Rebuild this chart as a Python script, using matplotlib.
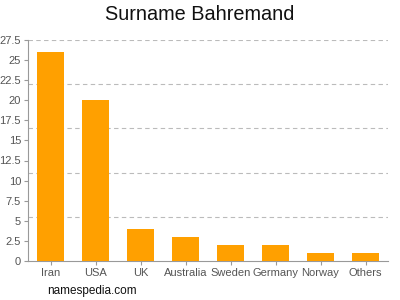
import matplotlib
matplotlib.use("Agg")
import matplotlib.pyplot as plt
import numpy as np

countries = ["Iran", "USA", "UK", "Australia", "Sweden", "Germany", "Norway", "Others"]
counts = [26, 20, 4, 3, 2, 2, 1, 1]
y_ticks = [0, 2.5, 5, 7.5, 10, 12.5, 15, 17.5, 20, 22.5, 25, 27.5]
grid_levels = [5.5, 11, 16.5, 22, 27.5]

plt.rcParams["font.family"] = ["Liberation Sans", "DejaVu Sans"]

fig = plt.figure(figsize=(4, 3), dpi=100)
ax = fig.add_axes([0.07, 0.13, 0.9, 0.737])

x = np.arange(len(countries))
ax.bar(x, counts, width=0.62, color="#ffa000", zorder=3)

for level in grid_levels:
    ax.axhline(level, color="#bbbbbb", linewidth=0.8, linestyle=(0, (4, 3)), zorder=1)

ax.set_xlim(-0.5, len(countries) - 0.5)
ax.set_ylim(0, 27.5)
ax.set_xticks(x)
ax.set_xticklabels(countries)
ax.set_yticks(y_ticks)
ax.set_yticklabels([f"{t:g}" for t in y_ticks])

for side in ("top", "right"):
    ax.spines[side].set_visible(False)
for side in ("left", "bottom"):
    ax.spines[side].set_color("#999999")
    ax.spines[side].set_linewidth(0.8)

ax.tick_params(axis="both", colors="#999999", labelcolor="#555555", labelsize=8, length=3, width=0.8, pad=2)

fig.text(0.5, 0.953, "Surname Bahremand", ha="center", va="center", fontsize=14.3, color="#111111")
fig.text(0.118, 0.03, "namespedia.com", ha="left", va="center", fontsize=8.5, color="#111111")

fig.savefig("out.png", dpi=100)
